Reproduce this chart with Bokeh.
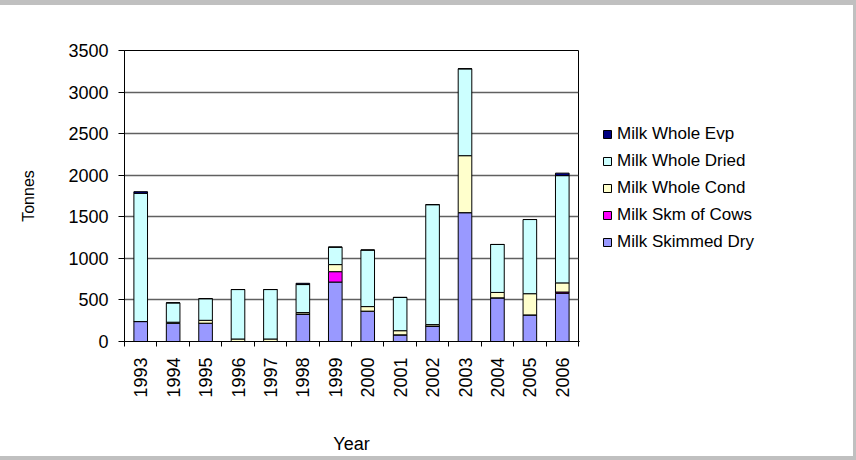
import math
from bokeh.plotting import figure
from bokeh.models import (ColumnDataSource, FixedTicker, Legend, LegendItem, Div, Column, Row, Range1d)
from bokeh.embed import file_html
from bokeh.resources import INLINE

years = ["1993", "1994", "1995", "1996", "1997", "1998", "1999",
         "2000", "2001", "2002", "2003", "2004", "2005", "2006"]
milk_skimmed_dry = [240, 220, 220, 0, 0, 330, 715, 365, 80, 185, 1550, 525, 320, 580]
milk_skm_of_cows = [0, 0, 0, 0, 0, 0, 125, 0, 0, 0, 0, 0, 0, 15]
milk_whole_cond = [0, 12, 35, 30, 30, 18, 85, 55, 50, 18, 685, 65, 255, 110]
milk_whole_dried = [1542, 233, 260, 595, 595, 337, 210, 680, 400, 1443, 1045, 577, 892, 1290]
milk_whole_evp = [20, 0, 0, 0, 0, 15, 0, 0, 0, 0, 0, 0, 0, 30]

series = ["Milk Skimmed Dry", "Milk Skm of Cows", "Milk Whole Cond", "Milk Whole Dried", "Milk Whole Evp"]
colors = ["#9999FF", "#FF00FF", "#FFFFCC", "#CCFFFF", "#000080"]

x = list(range(len(years)))
source = ColumnDataSource(data={
    "x": x,
    "Milk Skimmed Dry": milk_skimmed_dry,
    "Milk Skm of Cows": milk_skm_of_cows,
    "Milk Whole Cond": milk_whole_cond,
    "Milk Whole Dried": milk_whole_dried,
    "Milk Whole Evp": milk_whole_evp,
})

p = figure(width=579, height=451, output_backend="svg", toolbar_location=None,
           x_range=Range1d(-0.5, len(years) - 0.5), y_range=Range1d(0, 3500),
           min_border_left=124, min_border_right=1, min_border_top=45, min_border_bottom=114)
p.background_fill_color = "white"
p.border_fill_color = "white"
p.outline_line_color = "black"
p.outline_line_width = 1

renderers = p.vbar_stack(series, x="x", width=0.42, source=source, fill_color=colors,
                         line_color="black", line_width=1)

# axes
p.xaxis.ticker = FixedTicker(ticks=x, minor_ticks=[i - 0.5 for i in range(len(years) + 1)])
p.xaxis.major_label_overrides = {i: y for i, y in enumerate(years)}
p.xaxis.major_label_orientation = math.pi / 2
p.xaxis.major_tick_out = 0
p.xaxis.major_tick_in = 0
p.xaxis.minor_tick_out = 5
p.xaxis.minor_tick_in = 0
p.xaxis.minor_tick_line_color = "black"
p.xaxis.major_label_standoff = 11
p.xaxis.major_label_text_font = "Liberation Sans"
p.xaxis.major_label_text_font_size = "18px"
p.xaxis.axis_label = "Year"
p.xaxis.axis_label_text_font = "Liberation Sans"
p.xaxis.axis_label_text_font_size = "18px"
p.xaxis.axis_label_text_font_style = "normal"
p.xaxis.axis_label_standoff = 33

p.yaxis.ticker = FixedTicker(ticks=[0, 500, 1000, 1500, 2000, 2500, 3000, 3500])
p.yaxis.minor_tick_line_color = None
p.yaxis.major_tick_out = 6
p.yaxis.major_tick_in = 0
p.yaxis.major_label_standoff = 10
p.yaxis.major_label_text_font = "Liberation Sans"
p.yaxis.major_label_text_font_size = "18px"
p.yaxis.axis_label = "Tonnes"
p.yaxis.axis_label_text_font = "Liberation Sans"
p.yaxis.axis_label_text_font_size = "16px"
p.yaxis.axis_label_text_font_style = "normal"
p.yaxis.axis_label_standoff = 28

for ax in (p.xaxis, p.yaxis):
    ax.axis_line_color = "black"
    ax.major_tick_line_color = "black"
    ax.major_label_text_color = "black"
    ax.axis_label_text_color = "black"

p.xgrid.grid_line_color = None
p.ygrid.grid_line_color = "#606060"
p.ygrid.grid_line_width = 1.5

# legend in a separate, axis-less figure to the right of the plot
lp = figure(width=274, height=451, output_backend="svg", toolbar_location=None,
            x_axis_location=None, y_axis_location=None,
            x_range=Range1d(0, 1), y_range=Range1d(0, 1),
            min_border=0, min_border_left=0, min_border_right=0,
            min_border_top=0, min_border_bottom=0)
lp.outline_line_color = None
lp.background_fill_color = "white"
lp.border_fill_color = "white"
lp.grid.grid_line_color = None
offscreen = ColumnDataSource(data={"x": [-10], "top": [0]})
legend_renderers = [lp.vbar(x="x", top="top", width=0.1, source=offscreen,
                            fill_color=c, line_color="black", line_width=1) for c in colors]

items = [LegendItem(label=s, renderers=[r]) for s, r in zip(series, legend_renderers)][::-1]
legend = Legend(items=items, location=(23, 89), orientation="vertical",
                glyph_width=10, glyph_height=10, label_standoff=5,
                label_height=20, spacing=7, padding=0, margin=0,
                label_text_font="Liberation Sans", label_text_font_size="17px",
                label_text_color="black", border_line_color=None,
                background_fill_alpha=0)
lp.add_layout(legend, "center")

gray = "#C0C0C0"
top = Div(width=856, height=5, styles={"background-color": gray}, margin=0)
right = Div(width=3, height=451, styles={"background-color": gray}, margin=0)
bottom = Div(width=856, height=4, styles={"background-color": gray}, margin=0)
layout = Column(top, Row(p, lp, right, spacing=0), bottom, spacing=0)

open("out.html", "w").write(file_html(layout, INLINE))
